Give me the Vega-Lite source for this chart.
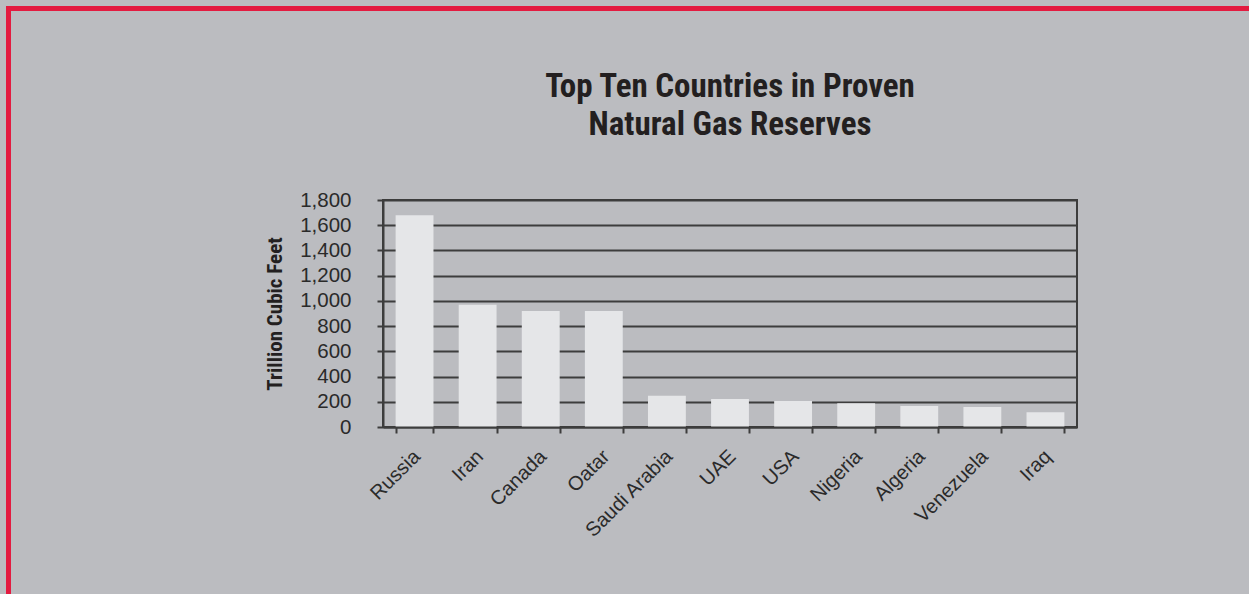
{
  "$schema": "https://vega.github.io/schema/vega-lite/v6.json",
  "background": "#bbbcc0",
  "padding": {"left": 6, "top": 6, "right": 0, "bottom": 0},
  "config": {"view": {"stroke": null}},
  "spacing": 0,
  "hconcat": [
    {
      "data": {"values": []},
      "mark": "rect",
      "encoding": {},
      "width": 5,
      "height": 588,
      "view": {"fill": "#e31b40", "stroke": null}
    },
    {
      "spacing": 59,
      "vconcat": [
        {
          "data": {"values": []},
          "mark": "rect",
          "encoding": {},
          "width": 1238,
          "height": 5,
          "view": {"fill": "#e31b40", "stroke": null}
        },
        {
          "spacing": 0,
          "hconcat": [
            {
              "data": {"values": []},
              "mark": "rect",
              "encoding": {},
              "width": 252,
              "height": 1,
              "view": {"stroke": null}
            },
            {
              "width": 694,
              "height": 227,
              "view": {"stroke": "#3d3d3d", "strokeWidth": 2},
              "title": {
                "text": ["Top Ten Countries in Proven", "Natural Gas Reserves"],
                "font": "Roboto Condensed, DejaVu Sans Condensed, sans-serif",
                "fontSize": 33,
                "fontWeight": "bold",
                "lineHeight": 38,
                "color": "#231f20",
                "anchor": "middle",
                "offset": 48
              },
              "data": {
                "values": [
                  {"country": "Russia", "reserves": 1680},
                  {"country": "Iran", "reserves": 970},
                  {"country": "Canada", "reserves": 920},
                  {"country": "Oatar", "reserves": 920},
                  {"country": "Saudi Arabia", "reserves": 248},
                  {"country": "UAE", "reserves": 222},
                  {"country": "USA", "reserves": 206},
                  {"country": "Nigeria", "reserves": 188},
                  {"country": "Algeria", "reserves": 166},
                  {"country": "Venezuela", "reserves": 159},
                  {"country": "Iraq", "reserves": 117}
                ]
              },
              "mark": {"type": "bar", "color": "#e5e6e8"},
              "encoding": {
                "x": {
                  "field": "country",
                  "type": "nominal",
                  "sort": null,
                  "scale": {"paddingInner": 0.4, "paddingOuter": 0.2},
                  "axis": {
                    "title": null,
                    "zindex": 1,
                    "labelAngle": -45,
                    "tickBand": "extent",
                    "labelFont": "Liberation Sans",
                    "labelFontSize": 20,
                    "labelColor": "#2a2a2a",
                    "labelPadding": 13,
                    "labelOffset": -5,
                    "tickSize": 6,
                    "tickColor": "#3d3d3d",
                    "tickWidth": 2,
                    "domainColor": "#3d3d3d",
                    "domainWidth": 2,
                    "grid": false
                  }
                },
                "y": {
                  "field": "reserves",
                  "type": "quantitative",
                  "scale": {"domain": [0, 1800], "nice": false},
                  "axis": {
                    "values": [0, 200, 400, 600, 800, 1000, 1200, 1400, 1600, 1800],
                    "format": ",d",
                    "title": "Trillion Cubic Feet",
                    "titleFont": "Roboto Condensed, DejaVu Sans Condensed, sans-serif",
                    "titleFontSize": 21,
                    "titleFontWeight": "bold",
                    "titleColor": "#231f20",
                    "titlePadding": 14,
                    "labelFont": "Liberation Sans",
                    "labelFontSize": 20.5,
                    "labelColor": "#2a2a2a",
                    "labelPadding": 26,
                    "tickSize": 6,
                    "tickColor": "#3d3d3d",
                    "tickWidth": 2,
                    "domainColor": "#3d3d3d",
                    "domainWidth": 2,
                    "grid": true,
                    "gridColor": "#3d3d3d",
                    "gridWidth": 2
                  }
                }
              }
            }
          ]
        }
      ]
    }
  ]
}
